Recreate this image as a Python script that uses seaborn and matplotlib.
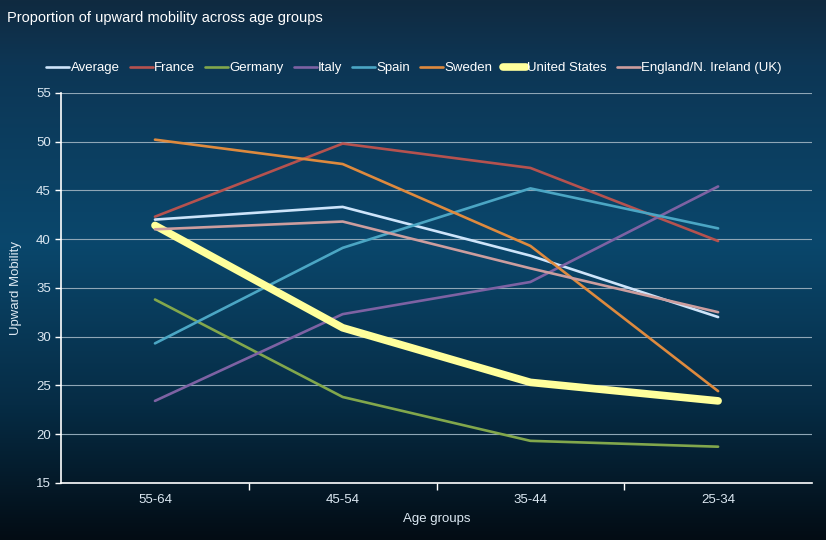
import numpy as np
import pandas as pd
import matplotlib
matplotlib.use('Agg')
import matplotlib.pyplot as plt
import seaborn as sns

# ------------------------------------------------------------
# data
# ------------------------------------------------------------
age_groups = ['55-64', '45-54', '35-44', '25-34']

average = [42.0, 43.3, 38.3, 32.0]
france = [42.3, 49.8, 47.3, 39.8]
germany = [33.8, 23.8, 19.3, 18.7]
italy = [23.4, 32.3, 35.6, 45.4]
spain = [29.3, 39.1, 45.2, 41.1]
sweden = [50.2, 47.7, 39.3, 24.4]
united_states = [41.4, 30.9, 25.3, 23.4]
uk = [41.0, 41.8, 37.0, 32.5]

series = {
    'Average': average,
    'France': france,
    'Germany': germany,
    'Italy': italy,
    'Spain': spain,
    'Sweden': sweden,
    'United States': united_states,
    'England/N. Ireland (UK)': uk,
}

colors = {
    'Average': '#cde4fa',
    'France': '#b5524f',
    'Germany': '#82a74c',
    'Italy': '#7d62a3',
    'Spain': '#4ba6c4',
    'Sweden': '#de8a3e',
    'United States': '#ffff9c',
    'England/N. Ireland (UK)': '#cc9d9e',
}

rows = []
for name, vals in series.items():
    for i, v in enumerate(vals):
        rows.append({'Country': name, 'pos': i, 'value': v})
df = pd.DataFrame(rows)

# ------------------------------------------------------------
# figure
# ------------------------------------------------------------
sns.set_style('white')
plt.rcParams['font.family'] = ['Liberation Sans', 'DejaVu Sans']

fig = plt.figure(figsize=(8.26, 5.4), dpi=100)

# gradient background: navy top, brighter blue middle, near black bottom
bg = fig.add_axes([0, 0, 1, 1], zorder=-10)
stops_y = [0.0, 0.12, 0.45, 0.75, 1.0]
stops_c = np.array([
    [0x10, 0x2a, 0x40],
    [0x0d, 0x36, 0x55],
    [0x0a, 0x47, 0x6c],
    [0x06, 0x2c, 0x45],
    [0x03, 0x0c, 0x14],
]) / 255.0
yy = np.linspace(0, 1, 540)
grad = np.stack([np.interp(yy, stops_y, stops_c[:, k]) for k in range(3)], axis=1)
bg.imshow(grad[:, None, :], aspect='auto', extent=[0, 1, 1, 0])
bg.set_axis_off()

ax = fig.add_axes([0.074, 0.106, 0.909, 0.722])
ax.patch.set_alpha(0)

for name in series:
    sub = df[df['Country'] == name]
    lw = 5.5 if name == 'United States' else 1.9
    sns.lineplot(data=sub, x='pos', y='value', ax=ax, color=colors[name],
                 linewidth=lw, label=name, solid_capstyle='round')

ax.set_xlim(-0.5, 3.5)
ax.set_ylim(15, 55)
ax.set_yticks(range(15, 56, 5))
ax.set_xticks(range(len(age_groups)))
ax.set_xticklabels(age_groups)
ax.set_xticks([0.5, 1.5, 2.5], minor=True)

ax.grid(axis='y', color='#8fa6b6', linewidth=0.8)
ax.grid(axis='x', visible=False)
ax.set_axisbelow(True)

for s in ['top', 'right']:
    ax.spines[s].set_visible(False)
for s in ['left', 'bottom']:
    ax.spines[s].set_color('white')
    ax.spines[s].set_linewidth(1.2)

ax.tick_params(axis='y', colors='white', labelcolor='#dce8f2', labelsize=9.5,
               length=4, width=1, direction='out', left=True)
ax.tick_params(axis='x', which='major', length=0, labelcolor='#dce8f2',
               labelsize=9.5, pad=8)
ax.tick_params(axis='x', which='minor', length=5, width=1, colors='white',
               direction='out', bottom=True)

ax.set_xlabel('Age groups', color='#dce8f2', fontsize=9.5, labelpad=5)
ax.set_ylabel('Upward Mobility', color='#dce8f2', fontsize=9.5, labelpad=10)

leg = ax.legend(loc='center', bbox_to_anchor=(0.501, 0.874),
                bbox_transform=fig.transFigure, ncol=8,
                frameon=False, fontsize=9.5, handlelength=1.75,
                handletextpad=0.1, columnspacing=0.75, borderaxespad=0)
for t in leg.get_texts():
    t.set_color('white')

fig.text(0.009, 0.966, 'Proportion of upward mobility across age groups',
         color='white', fontsize=10.5, ha='left', va='center')

fig.savefig('out.png', dpi=100)
